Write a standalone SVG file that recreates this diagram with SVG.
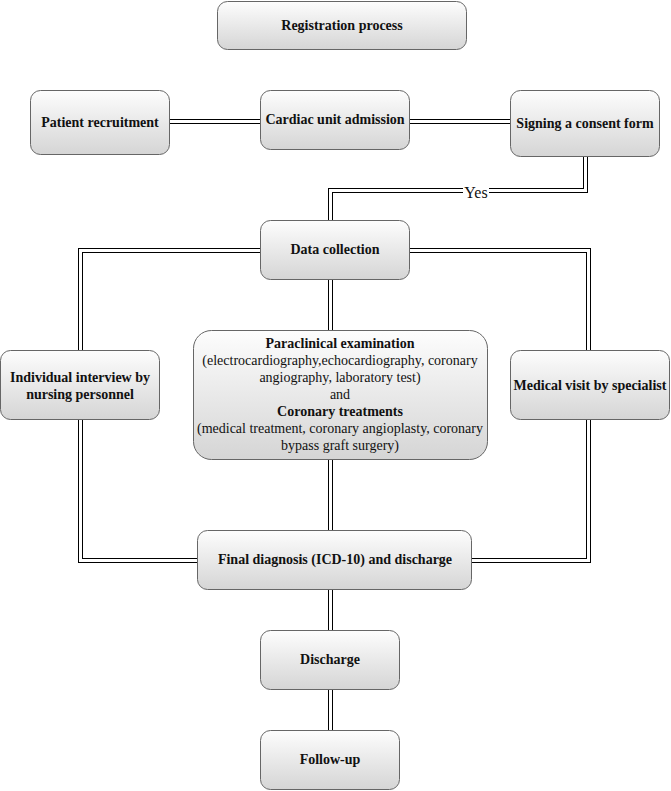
<svg xmlns="http://www.w3.org/2000/svg" width="671" height="791" viewBox="0 0 671 791">
<defs>
<linearGradient id="g" x1="0" y1="0" x2="0" y2="1">
<stop offset="0" stop-color="#fdfdfd"/>
<stop offset="1" stop-color="#d5d5d5"/>
</linearGradient>
</defs>
<style>
.box{fill:url(#g);stroke:#666;stroke-width:1}
.t{font-family:"Liberation Serif","Times New Roman",serif;font-size:14px;fill:#111;text-anchor:middle;dominant-baseline:central}
.b{font-weight:bold}
.lo{fill:none;stroke:#000;stroke-width:5}
.li{fill:none;stroke:#fff;stroke-width:3}
</style>
<rect width="671" height="791" fill="#fff"/>
<g id="connectors">
<g class="lo">
<path d="M170,121.5H260"/>
<path d="M410,121.5H510"/>
<path d="M585.5,157V190.5H330.5V220"/>
<path d="M260,250.5H80.5V560.5H197"/>
<path d="M410,250.5H588.5V560.5H472"/>
<path d="M330.5,280V530"/>
<path d="M330.5,590V730"/>
</g>
<g class="li">
<path d="M170,121.5H260"/>
<path d="M410,121.5H510"/>
<path d="M585.5,157V190.5H330.5V220"/>
<path d="M260,250.5H80.5V560.5H197"/>
<path d="M410,250.5H588.5V560.5H472"/>
<path d="M330.5,280V530"/>
<path d="M330.5,590V730"/>
</g>
<rect x="463" y="183" width="26" height="17" fill="#fff"/>
<text x="476" y="192" class="t" style="font-size:16px">Yes</text>
</g>
<g id="registration"><rect class="box" x="217.5" y="1.5" width="249" height="48" rx="10"/><text class="t b" x="342" y="25">Registration process</text></g>
<g id="patient"><rect class="box" x="30.5" y="90.5" width="139" height="64" rx="10"/><text class="t b" x="100" y="122">Patient recruitment</text></g>
<g id="cardiac"><rect class="box" x="260.5" y="90.5" width="149" height="59" rx="10"/><text class="t b" x="335" y="119">Cardiac unit admission</text></g>
<g id="consent"><rect class="box" x="510.5" y="90.5" width="149" height="66" rx="10"/><text class="t b" x="585" y="123">Signing a consent form</text></g>
<g id="data"><rect class="box" x="260.5" y="220.5" width="149" height="59" rx="10"/><text class="t b" x="335" y="249">Data collection</text></g>
<g id="interview"><rect class="box" x="0.5" y="350.5" width="159" height="69" rx="10"/><text class="t b" x="80" y="377">Individual interview by</text><text class="t b" x="80" y="394">nursing personnel</text></g>
<g id="paraclinical"><rect class="box" x="193.5" y="330.5" width="294" height="129" rx="18"/>
<text class="t b" x="340" y="343">Paraclinical examination</text>
<text class="t" x="340" y="360">(electrocardiography,echocardiography, coronary</text>
<text class="t" x="340" y="377">angiography, laboratory test)</text>
<text class="t" x="340" y="394">and</text>
<text class="t b" x="340" y="411">Coronary treatments</text>
<text class="t" x="340" y="428">(medical treatment, coronary angioplasty, coronary</text>
<text class="t" x="340" y="445">bypass graft surgery)</text>
</g>
<g id="medical"><rect class="box" x="510.5" y="350.5" width="159" height="69" rx="10"/><text class="t b" x="590" y="385">Medical visit by specialist</text></g>
<g id="final"><rect class="box" x="197.5" y="530.5" width="274" height="59" rx="10"/><text class="t b" x="335" y="559">Final diagnosis (ICD-10) and discharge</text></g>
<g id="discharge"><rect class="box" x="260.5" y="630.5" width="139" height="59" rx="10"/><text class="t b" x="330" y="659">Discharge</text></g>
<g id="followup"><rect class="box" x="260.5" y="730.5" width="139" height="59" rx="10"/><text class="t b" x="330" y="759">Follow-up</text></g>
</svg>
